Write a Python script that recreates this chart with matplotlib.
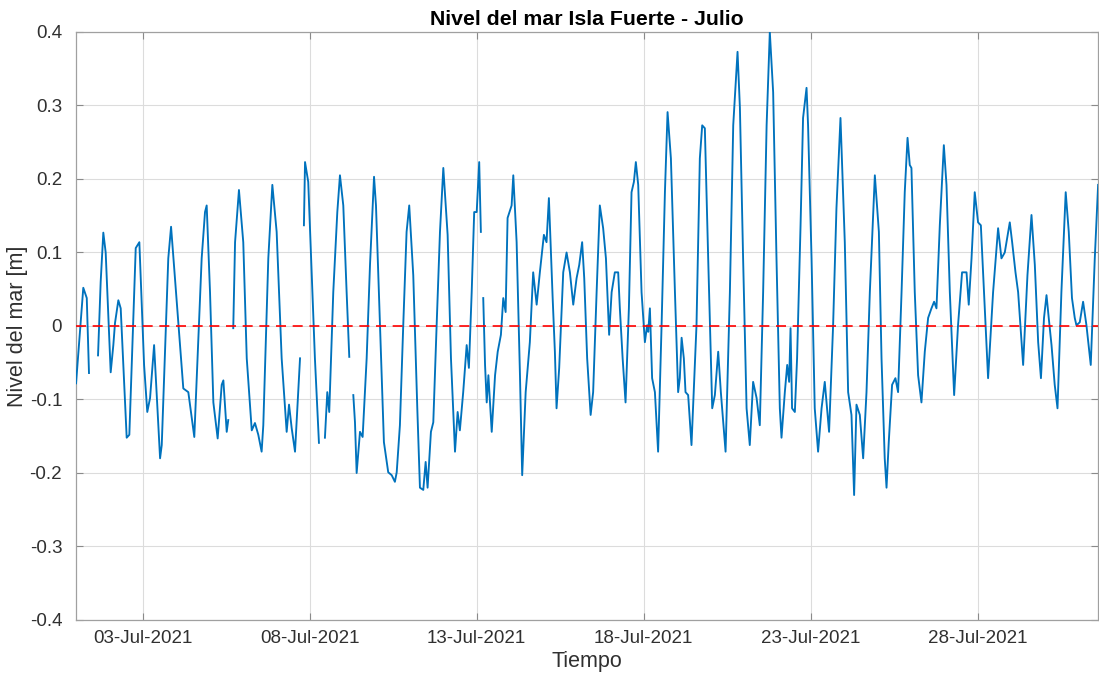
import numpy as np
import matplotlib
matplotlib.use("Agg")
import matplotlib.pyplot as plt
import matplotlib.dates as mdates

# ---------------------------
# Data (hours since 01-Jul-2021 00:00, level in m)
# NaN marks the short gaps in the record
# ---------------------------
nan = np.nan
START = np.datetime64('2021-07-01T00:00')

hours = [
    0.0, 5.2, 7.7, 9.3, 11.0, 15.8, 17.7, 19.6, 21.3, 24.9, 26.8, 28.0, 30.4, 32.1,
    36.4, 38.3, 42.9, 45.5, 48.9, 51.2, 53.2, 56.1, 60.4, 61.6, 66.3, 68.3, 77.1,
    80.7, 85.0, 90.3, 92.7, 93.9, 96.3, 98.7, 101.8, 104.7, 105.9, 108.3, 109.4,
    111.0, 113.0, 114.3, 117.1, 120.2, 122.7, 126.3, 128.6, 131.0, 133.4, 134.6,
    138.2, 141.1, 144.2, 147.8, 151.4, 153.1, 155.0, 157.4, 161.0, 162.3, 163.8,
    164.6, 166.9, 169.4, 171.7, 174.6, 176.5, 178.9, 180.6, 182.0, 184.9, 187.8,
    189.7, 192.1, 194.5, 196.4, 198.0, 199.3, 200.5, 201.7, 204.1, 206.0, 208.9,
    211.3, 214.2, 215.6, 218.5, 221.3, 224.4, 226.9, 229.2, 230.5, 232.8, 235.2,
    237.6, 239.5, 242.4, 245.3, 247.2, 249.6, 251.3, 252.7, 255.1, 256.8, 259.2,
    261.6, 264.0, 267.1, 269.5, 272.4, 274.3, 275.9, 278.3, 280.8, 282.4, 284.4,
    286.2, 288.0, 289.8, 291.0, 291.9, 292.7, 294.0, 295.2, 296.4, 298.8, 301.2,
    303.1, 305.4, 307.1, 308.8, 310.2, 313.1, 314.3, 316.7, 319.1, 320.7, 323.2,
    326.2, 328.6, 331.1, 333.4, 336.3, 338.2, 339.9, 342.6, 344.2, 345.4, 347.3,
    350.2, 352.6, 355.0, 357.4, 359.8, 361.7, 363.8, 365.3, 367.4, 369.9, 371.7,
    374.2, 376.5, 378.9, 380.9, 383.2, 385.0, 387.3, 389.7, 390.9, 392.9, 395.0,
    397.4, 399.3, 401.0, 402.4, 404.1, 406.5, 408.9, 410.5, 411.3, 412.5, 414.1,
    416.1, 418.4, 420.9, 423.3, 425.2, 427.6, 430.5, 432.8, 434.0, 435.3, 436.9,
    438.1, 440.0, 442.4, 446.0, 448.4, 450.1, 452.0, 454.4, 457.3, 459.2, 461.6,
    463.5, 466.9, 470.0, 472.4, 475.5, 477.2, 479.5, 482.0, 484.3, 486.7, 489.2,
    491.5, 493.9, 496.4, 498.7, 501.1, 503.5, 505.9, 507.1, 509.5, 511.2, 512.6,
    513.6, 514.7, 516.7, 518.3, 520.8, 522.6, 525.1, 526.2, 528.7, 531.0, 533.4,
    535.9, 538.2, 541.3, 544.2, 546.6, 549.5, 552.6, 555.0, 557.4, 559.3, 561.0,
    563.4, 565.8, 568.2, 570.6, 574.2, 577.1, 579.0, 581.3, 582.6, 584.2, 586.6,
    589.0, 590.9, 593.4, 595.7, 597.7, 599.3, 600.5, 602.9, 605.3, 607.7, 610.1,
    612.5, 614.9, 616.8, 618.5, 620.9, 623.8, 625.7, 628.1, 631.2, 634.0, 636.9,
    640.1, 641.7, 643.7, 646.0, 648.4, 650.4, 653.2, 655.6, 659.2, 662.8, 665.2,
    667.6, 671.2, 672.9, 675.3, 677.2, 680.8, 683.9, 686.8, 689.2, 691.6, 693.6,
    695.8, 697.6, 699.2, 701.2, 703.5, 705.5, 708.3, 711.4, 713.6, 715.9, 717.9,
    719.1, 721.5, 723.9, 726.3, 729.4, 732.3, 734.7,
]

nivel = [
    -0.078, 0.052, 0.038, -0.064, nan, -0.040, 0.060, 0.127, 0.100, -0.063, -0.026, 0.004, 0.035, 0.024,
    -0.152, -0.148, 0.106, 0.114, -0.053, -0.117, -0.098, -0.026, -0.180, -0.162, 0.092, 0.135, -0.085,
    -0.090, -0.151, 0.092, 0.155, 0.164, 0.046, -0.104, -0.153, -0.080, -0.074, -0.144, -0.128,
    nan, -0.003, 0.114, 0.185, 0.114, -0.044, -0.142, -0.132, -0.148, -0.171, -0.135,
    0.092, 0.192, 0.128, -0.044, -0.144, -0.107, -0.139, -0.171, -0.044, nan, 0.137,
    0.223, 0.196, 0.069, -0.044, -0.159, nan, -0.152, -0.090, -0.117, 0.046, 0.155,
    0.205, 0.164, 0.046, -0.042, nan, -0.094, -0.131, -0.200, -0.144, -0.151, -0.044,
    0.083, 0.203, 0.164, 0.001, -0.158, -0.199, -0.203, -0.212, -0.199, -0.135, 0.001,
    0.128, 0.164, 0.069, -0.112, -0.220, -0.223, -0.185, -0.220, -0.144, -0.131, 0.001,
    0.128, 0.215, 0.124, -0.044, -0.171, -0.117, -0.142, -0.090, -0.026, -0.057, 0.046,
    0.155, 0.155, 0.223, 0.128, nan, 0.038, -0.053, -0.104, -0.067, -0.144, -0.067,
    -0.035, -0.012, 0.038, 0.019, 0.147, 0.164, 0.205, 0.114, -0.067, -0.203, -0.090,
    -0.022, 0.073, 0.029, 0.073, 0.124, 0.114, 0.174, 0.038, -0.035, -0.112, -0.057,
    0.073, 0.100, 0.073, 0.029, 0.065, 0.083, 0.114, 0.065, -0.044, -0.121, -0.090,
    0.046, 0.164, 0.133, 0.092, -0.012, 0.046, 0.073, 0.073, 0.024, -0.044, -0.104,
    0.024, 0.182, 0.196, 0.223, 0.192, 0.046, -0.022, 0.001, -0.008, 0.024, -0.071,
    -0.090, -0.171, 0.001, 0.182, 0.291, 0.228, 0.046, -0.090, -0.071, -0.016, -0.044,
    -0.090, -0.094, -0.162, 0.001, 0.228, 0.273, 0.269, 0.092, -0.112, -0.094, -0.035,
    -0.090, -0.171, 0.046, 0.273, 0.373, 0.297, 0.092, -0.112, -0.162, -0.076, -0.098,
    -0.135, 0.046, 0.273, 0.400, 0.318, 0.092, -0.112, -0.152, -0.090, -0.053, -0.076,
    -0.003, -0.112, -0.117, -0.044, 0.137, 0.283, 0.324, 0.273, 0.092, -0.112, -0.171,
    -0.112, -0.076, -0.144, 0.001, 0.160, 0.283, 0.114, -0.090, -0.121, -0.230, -0.107,
    -0.121, -0.180, -0.090, 0.046, 0.205, 0.128, -0.044, -0.180, -0.220, -0.158, -0.080,
    -0.071, -0.090, 0.046, 0.182, 0.256, 0.219, 0.215, 0.046, -0.067, -0.104, -0.035,
    0.011, 0.024, 0.033, 0.024, 0.137, 0.246, 0.192, 0.046, -0.094, 0.001, 0.073,
    0.073, 0.029, 0.092, 0.182, 0.141, 0.137, 0.024, -0.071, 0.046, 0.133, 0.092,
    0.100, 0.141, 0.114, 0.073, 0.046, -0.053, 0.069, 0.151, 0.083, -0.022, -0.071,
    0.011, 0.042, 0.011, -0.026, -0.080, -0.112, 0.046, 0.182, 0.128, 0.038, 0.011,
    0.001, 0.005, 0.033, 0.001, -0.053, 0.092, 0.192,
]

TITLE = 'Nivel del mar Isla Fuerte - Julio'
XLABEL = 'Tiempo'
YLABEL = 'Nivel del mar [m]'
TICK_DAYS = [3, 8, 13, 18, 23, 28]

TEXT_C = '#303030'
LINE_C = '#0072BD'

plt.rcParams['font.family'] = ['Liberation Sans', 'DejaVu Sans']

t = START + (np.array(hours) * 60).round().astype('timedelta64[m]')
y = np.array(nivel, dtype=float)

fig = plt.figure(figsize=(10.99, 6.79), dpi=100)
ax = fig.add_axes([0.0692, 0.0869, 0.9300, 0.8660])

ax.plot(t, y, color=LINE_C, linewidth=1.35, zorder=3)
ax.axhline(0, color='red', linestyle='--', linewidth=1.2, dashes=(6, 4), zorder=4)

ax.set_xlim(t[0], t[-1])
ax.set_ylim(-0.4, 0.4)
ax.set_yticks(np.arange(-0.4, 0.41, 0.1))
ax.set_yticklabels(['-0.4', '-0.3', '-0.2', '-0.1', '0', '0.1', '0.2', '0.3', '0.4'])

ax.xaxis.set_major_locator(mdates.DayLocator(bymonthday=TICK_DAYS))
ax.xaxis.set_major_formatter(mdates.DateFormatter('%d-%b-%Y'))

ax.grid(True, color='#dcdcdc', linewidth=0.8, zorder=0)
ax.set_axisbelow(True)
for s in ax.spines.values():
    s.set_color('#a0a0a0')
    s.set_linewidth(0.9)
ax.tick_params(direction='in', length=5, width=0.8, color='#8a8a8a',
               labelsize=13.5, labelcolor=TEXT_C, top=True, right=True,
               labeltop=False, labelright=False)
ax.tick_params(axis='x', pad=7)
ax.tick_params(axis='y', pad=10)

ax.set_title(TITLE, fontsize=15.3, fontweight='bold', color='black', pad=5)
ax.set_xlabel(XLABEL, fontsize=15.5, color=TEXT_C, labelpad=3)
ax.set_ylabel(YLABEL, fontsize=15.5, color=TEXT_C)
ax.yaxis.set_label_coords(-0.047, 0.5)

fig.savefig('out.png', dpi=100)
